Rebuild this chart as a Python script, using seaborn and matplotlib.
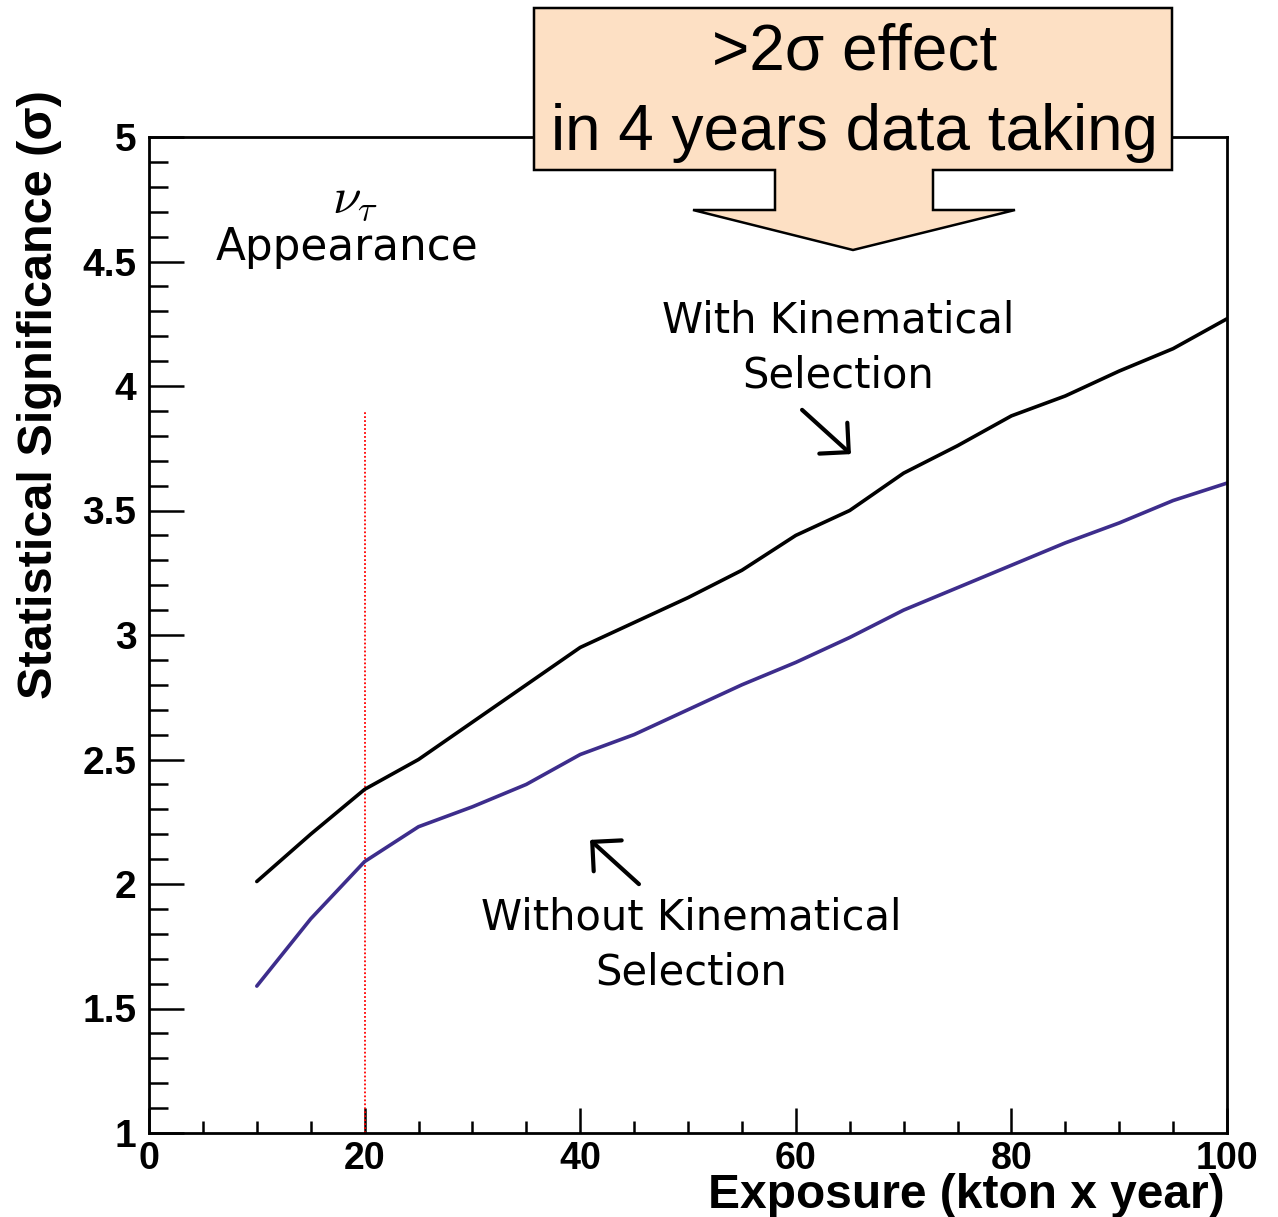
import numpy as np
import pandas as pd
import matplotlib
matplotlib.use("Agg")
import matplotlib.pyplot as plt
from matplotlib.patches import Polygon, FancyArrowPatch
from matplotlib.ticker import MultipleLocator
import seaborn as sns

# Exposure (kton x year) and statistical significance (sigma)
exposure = [10, 15, 20, 25, 30, 35, 40, 45, 50, 55, 60, 65, 70, 75, 80, 85, 90, 95, 100]
sig_with_kin = [2.01, 2.20, 2.38, 2.50, 2.65, 2.80, 2.95, 3.05, 3.15, 3.26, 3.40, 3.50,
                3.65, 3.76, 3.88, 3.96, 4.06, 4.15, 4.27]
sig_without_kin = [1.59, 1.86, 2.09, 2.23, 2.31, 2.40, 2.52, 2.60, 2.70, 2.80, 2.89, 2.99,
                   3.10, 3.19, 3.28, 3.37, 3.45, 3.54, 3.61]
series_names = ["With Kinematical Selection", "Without Kinematical Selection"]
x_ticks = [0, 20, 40, 60, 80, 100]
y_ticks = [1, 1.5, 2, 2.5, 3, 3.5, 4, 4.5, 5]

df = pd.DataFrame({
    "exposure": exposure * 2,
    "significance": sig_with_kin + sig_without_kin,
    "selection": [series_names[0]] * len(exposure) + [series_names[1]] * len(exposure),
})

sns.set_style("ticks")
plt.rcParams["font.family"] = ["Liberation Sans", "DejaVu Sans"]
plt.rcParams["mathtext.fontset"] = "cm"
plt.rcParams["text.color"] = "black"
plt.rcParams["axes.labelcolor"] = "black"
plt.rcParams["xtick.color"] = "black"
plt.rcParams["ytick.color"] = "black"

W, H = 1278, 1217
fig = plt.figure(figsize=(W / 100, H / 100), dpi=100)
ax = fig.add_axes([149 / W, 1 - 1133 / H, (1227 - 149) / W, (1133 - 137) / H])

sns.lineplot(data=df, x="exposure", y="significance", hue="selection",
             palette={series_names[0]: "#000000", series_names[1]: "#3d2d8c"},
             linewidth=2.6, legend=False, ax=ax)

# marker for 20 kton x year
ax.plot([20, 20], [1.0, 3.9], color="#ff0000", linestyle=(0, (1, 1.2)), linewidth=1.3, zorder=1)

ax.set_xlim(0, 100)
ax.set_ylim(1, 5)
ax.xaxis.set_minor_locator(MultipleLocator(5))
ax.yaxis.set_minor_locator(MultipleLocator(0.1))
ax.set_xticks(x_ticks)
ax.set_xticklabels([str(v) for v in x_ticks])
ax.set_yticks(y_ticks)
ax.set_yticklabels([f"{v:g}" for v in y_ticks])

ax.tick_params(axis="both", which="both", direction="in", width=1.8, color="black",
               labelcolor="black")
ax.tick_params(axis="x", which="major", length=18, labelsize=27, pad=6)
ax.tick_params(axis="x", which="minor", length=9)
ax.tick_params(axis="y", which="major", length=25, labelsize=28, pad=9)
ax.tick_params(axis="y", which="minor", length=14)
for lab in ax.get_xticklabels() + ax.get_yticklabels():
    lab.set_fontweight("bold")

for s in ax.spines.values():
    s.set_linewidth(2.0)
    s.set_color("black")

ax.set_xlabel("")
ax.set_ylabel("")
fig.text(1225 / W, 1 - 1195 / H, "Exposure (kton x year)", ha="right", va="center",
         fontsize=34.5, fontweight="bold")
fig.text(40 / W, 1 - 395 / H, "Statistical Significance (\u03c3)", ha="center", va="center",
         rotation=90, fontsize=35, fontweight="bold")

# annotations
hand = ["DejaVu Sans"]
fig.text(355 / W, 1 - 200 / H, r"$\nu_\tau$", ha="center", va="center", fontsize=37)
fig.text(347 / W, 1 - 248 / H, "Appearance", ha="center", va="center", fontsize=31.5,
         family=hand)
fig.text(838 / W, 1 - 348 / H, "With Kinematical\nSelection", ha="center", va="center",
         fontsize=30, family=hand, linespacing=1.4)
fig.text(691 / W, 1 - 945 / H, "Without Kinematical\nSelection", ha="center", va="center",
         fontsize=30, family=hand, linespacing=1.4)


def px(x, y):
    return (x / W, 1 - y / H)


arrow_style = "->,head_length=15,head_width=15"
fig.add_artist(FancyArrowPatch(px(800, 408), px(853, 456), transform=fig.transFigure,
                               arrowstyle=arrow_style, color="black", linewidth=3.0,
                               mutation_scale=1))
fig.add_artist(FancyArrowPatch(px(641, 886), px(588, 838), transform=fig.transFigure,
                               arrowstyle=arrow_style, color="black", linewidth=3.0,
                               mutation_scale=1))

# callout box with downward arrow
outline = [(534, 8), (1172, 8), (1172, 170), (933, 170), (933, 210), (1015, 210), (853, 250),
           (693, 210), (775, 210), (775, 170), (534, 170)]
poly = Polygon([px(x, y) for x, y in outline], closed=True, transform=fig.transFigure,
               facecolor="#fde0c4", edgecolor="black", linewidth=1.8, zorder=5)
fig.add_artist(poly)
fig.text(855 / W, 1 - 53 / H, ">2\u03c3 effect", ha="center", va="center", fontsize=46, zorder=6)
fig.text(854 / W, 1 - 133 / H, "in 4 years data taking", ha="center", va="center", fontsize=46,
         zorder=6)

fig.savefig("out.png", dpi=100)
